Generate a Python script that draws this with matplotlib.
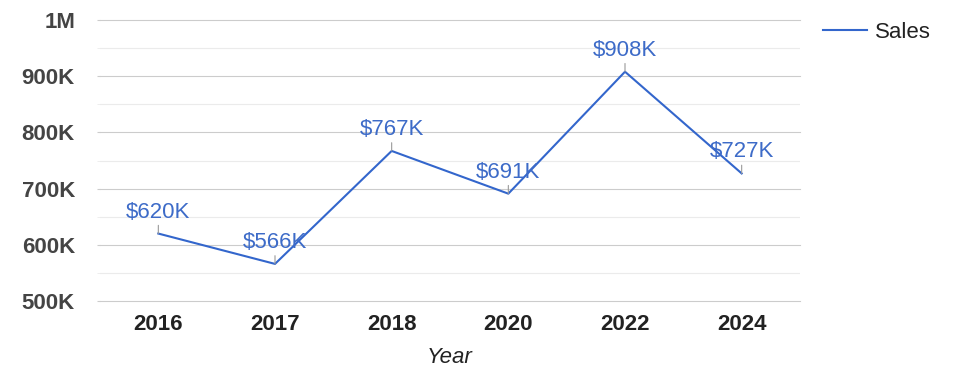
import matplotlib
matplotlib.use("Agg")
import matplotlib.pyplot as plt
from matplotlib.ticker import FuncFormatter, MultipleLocator

years = ["2016", "2017", "2018", "2020", "2022", "2024"]
sales = [620000, 566000, 767000, 691000, 908000, 727000]
sales_labels = ["$620K", "$566K", "$767K", "$691K", "$908K", "$727K"]
y_ticks = [500000, 600000, 700000, 800000, 900000, 1000000]

plt.rcParams["font.family"] = ["Liberation Sans", "DejaVu Sans"]

W, H = 975, 378
fig = plt.figure(figsize=(W / 100, H / 100), dpi=100)
ax = fig.add_axes([100 / W, 1 - 301 / H, 700 / W, 281 / H])

x = list(range(len(years)))
line, = ax.plot(x, sales, color="#3366cc", lw=1.5, label="Sales", zorder=3)

for xi, v, lab in zip(x, sales, sales_labels):
    ax.annotate(lab, (xi, v), xytext=(0, 11), textcoords="offset pixels",
                ha="center", va="bottom", fontsize=16, color="#3d6bc8", zorder=4,
                arrowprops=dict(arrowstyle="-", color="#999999", lw=0.8,
                                shrinkA=0, shrinkB=0, relpos=(0.5, 0)))

ax.set_xlim(-0.5, len(years) - 0.5)
ax.set_ylim(y_ticks[0], y_ticks[-1])
ax.set_yticks(y_ticks)
ax.yaxis.set_minor_locator(MultipleLocator(50000))
ax.yaxis.set_major_formatter(FuncFormatter(lambda v, p: "1M" if v >= 1e6 else f"{int(v/1000)}K"))
ax.set_xticks(x)
ax.set_xticklabels(years)

ax.grid(axis="y", which="major", color="#cccccc", lw=0.8)
ax.grid(axis="y", which="minor", color="#ebebeb", lw=0.8)
ax.set_axisbelow(True)
for s in ax.spines.values():
    s.set_visible(False)

ax.tick_params(axis="y", which="major", length=2, color="#cccccc", pad=16, labelsize=16, labelcolor="#444444")
ax.tick_params(axis="y", which="minor", length=2, color="#ebebeb")
ax.tick_params(axis="x", length=0, pad=9, labelsize=16, labelcolor="#222222")
for t in ax.get_yticklabels() + ax.get_xticklabels():
    t.set_fontweight("bold")
for gl in ax.yaxis.get_gridlines():
    gl.set_clip_on(False)

ax.set_xlabel("Year", fontsize=16, style="italic", color="#222222", labelpad=9)

fig.legend(handles=[line], loc="upper left", bbox_to_anchor=(803 / W, 1 - 2 / H),
           frameon=False, fontsize=16, handlelength=2.0, handletextpad=0.35,
           labelcolor="#222222")

fig.savefig("out.png", dpi=100)
